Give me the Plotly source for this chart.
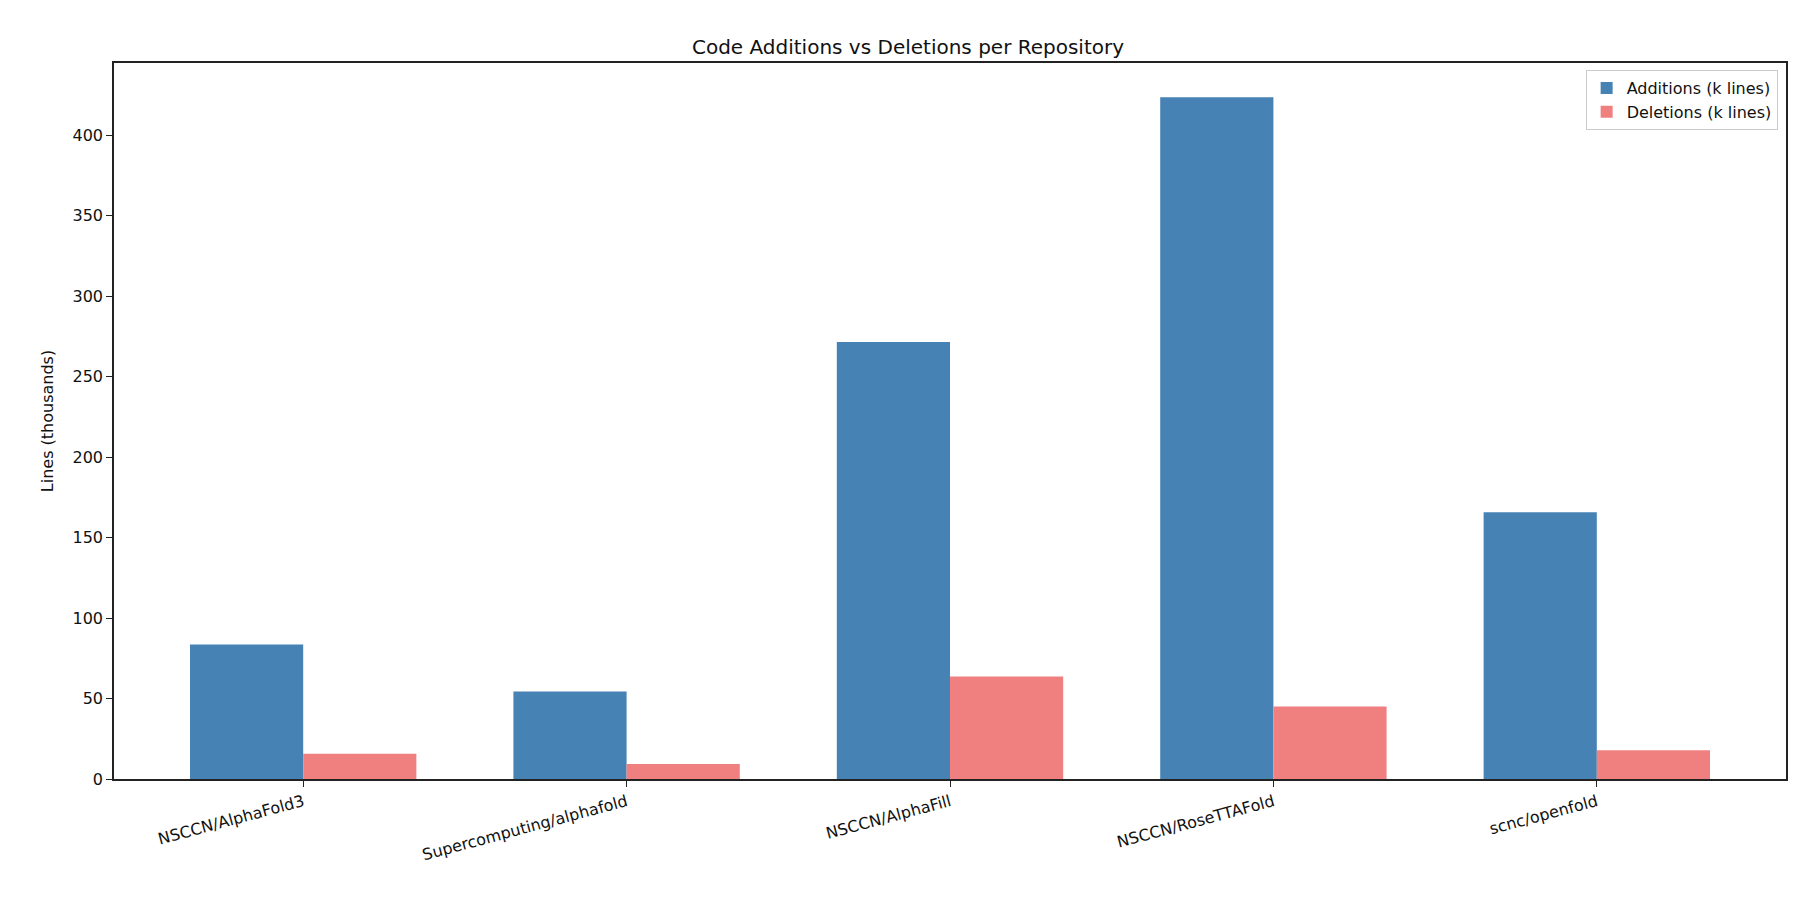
import plotly.graph_objects as go

repos = ["NSCCN/AlphaFold3", "Supercomputing/alphafold", "NSCCN/AlphaFill",
         "NSCCN/RoseTTAFold", "scnc/openfold"]
additions = [83.6, 54.3, 271.4, 423.6, 165.7]
deletions = [15.7, 9.3, 63.6, 45.0, 17.9]

fig = go.Figure()
fig.add_trace(go.Bar(name="Additions (k lines)", x=repos, y=additions,
                     marker_color="#4682b4", marker_line_width=0))
fig.add_trace(go.Bar(name="Deletions (k lines)", x=repos, y=deletions,
                     marker_color="#f08080", marker_line_width=0))

axis_style = dict(showline=True, linecolor="#222", linewidth=1.5, mirror=True,
                  ticks="outside", ticklen=6, tickcolor="#222", showgrid=False,
                  zeroline=False, tickfont=dict(size=16, color="#111"))

fig.update_layout(
    width=1800, height=900,
    barmode="group", bargap=0.3, bargroupgap=0,
    plot_bgcolor="white", paper_bgcolor="white",
    font=dict(family="DejaVu Sans", color="#111"),
    title=dict(text="Code Additions vs Deletions per Repository", x=0.5,
               xanchor="center", y=0.965, font=dict(size=20)),
    margin=dict(l=106, r=22, t=55, b=129),
    legend=dict(x=0.995, y=0.99, xanchor="right", yanchor="top",
                bordercolor="#ccc", borderwidth=1, font=dict(size=16)),
)
fig.update_xaxes(**axis_style, range=[-0.585, 4.585], tickangle=-15)
fig.update_yaxes(**axis_style, range=[0, 444.8], dtick=50,
                 title=dict(text="Lines (thousands)", font=dict(size=16)))

fig.write_html("out.html")
